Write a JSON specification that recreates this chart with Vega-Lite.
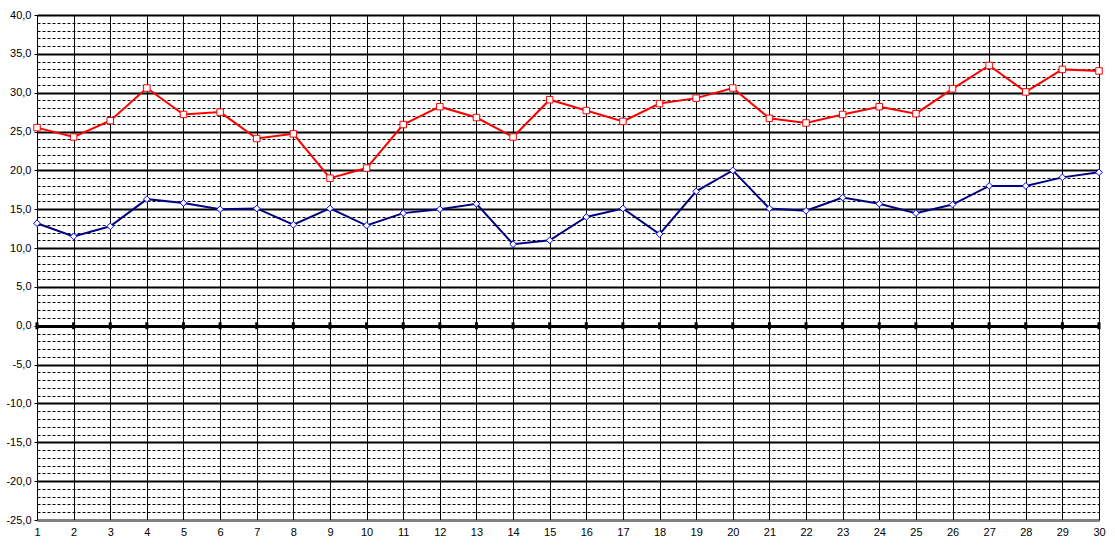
{
  "$schema": "https://vega.github.io/schema/vega-lite/v6.json",
  "width": 1062,
  "height": 505,
  "autosize": {"type": "none"},
  "padding": {"left": 37, "top": 15, "right": 16, "bottom": 32},
  "background": "white",
  "config": {
    "view": {"stroke": "#808080", "strokeWidth": 1},
    "font": "Liberation Sans",
    "axis": {"labelFont": "Liberation Sans", "labelFontSize": 11, "labelColor": "black", "title": null}
  },
  "data": {
    "values": [
      {"day": 1, "max": 25.5, "min": 13.2},
      {"day": 2, "max": 24.3, "min": 11.5},
      {"day": 3, "max": 26.4, "min": 12.8},
      {"day": 4, "max": 30.6, "min": 16.3},
      {"day": 5, "max": 27.2, "min": 15.8},
      {"day": 6, "max": 27.5, "min": 15.0},
      {"day": 7, "max": 24.1, "min": 15.1},
      {"day": 8, "max": 24.7, "min": 13.0},
      {"day": 9, "max": 19.0, "min": 15.1},
      {"day": 10, "max": 20.3, "min": 12.9},
      {"day": 11, "max": 25.9, "min": 14.5},
      {"day": 12, "max": 28.2, "min": 15.0},
      {"day": 13, "max": 26.8, "min": 15.7},
      {"day": 14, "max": 24.3, "min": 10.5},
      {"day": 15, "max": 29.1, "min": 11.0},
      {"day": 16, "max": 27.7, "min": 14.0},
      {"day": 17, "max": 26.3, "min": 15.1},
      {"day": 18, "max": 28.6, "min": 11.8},
      {"day": 19, "max": 29.3, "min": 17.3},
      {"day": 20, "max": 30.6, "min": 20.0},
      {"day": 21, "max": 26.7, "min": 15.1},
      {"day": 22, "max": 26.1, "min": 14.8},
      {"day": 23, "max": 27.2, "min": 16.5},
      {"day": 24, "max": 28.2, "min": 15.7},
      {"day": 25, "max": 27.3, "min": 14.5},
      {"day": 26, "max": 30.5, "min": 15.6},
      {"day": 27, "max": 33.5, "min": 18.0},
      {"day": 28, "max": 30.1, "min": 18.0},
      {"day": 29, "max": 33.0, "min": 19.1},
      {"day": 30, "max": 32.8, "min": 19.75}
    ]
  },
  "transform": [{"fold": ["min", "max"], "as": ["series", "temp"]}],
  "encoding": {
    "x": {
      "field": "day",
      "type": "quantitative",
      "scale": {"domain": [1, 30], "nice": false, "zero": false},
      "axis": {
        "values": [1,2,3,4,5,6,7,8,9,10,11,12,13,14,15,16,17,18,19,20,21,22,23,24,25,26,27,28,29,30],
        "grid": true,
        "gridColor": "black",
        "gridWidth": 1,
        "gridOpacity": 1,
        "tickSize": 0,
        "labelPadding": 6,
        "domainColor": "#808080",
        "domainWidth": 1,
        "labelFlush": false,
        "labelOverlap": false,
        "title": null
      }
    },
    "y": {
      "field": "temp",
      "type": "quantitative",
      "scale": {"domain": [-25, 40], "nice": false, "zero": false},
      "axis": {
        "values": [-25,-24,-23,-22,-21,-20,-19,-18,-17,-16,-15,-14,-13,-12,-11,-10,-9,-8,-7,-6,-5,-4,-3,-2,-1,0,1,2,3,4,5,6,7,8,9,10,11,12,13,14,15,16,17,18,19,20,21,22,23,24,25,26,27,28,29,30,31,32,33,34,35,36,37,38,39,40],
        "grid": true,
        "gridColor": "black",
        "gridOpacity": 1,
        "gridDash": {"condition": {"test": "datum.value % 5 === 0", "value": []}, "value": [3, 2]},
        "gridWidth": {"condition": [{"test": "datum.value === 0", "value": 3}, {"test": "datum.value % 5 === 0", "value": 2}], "value": 1},
        "tickColor": "black",
        "tickSize": 3,
        "tickOpacity": {"condition": {"test": "datum.value % 5 === 0", "value": 1}, "value": 0},
        "labelPadding": 3,
        "labelOverlap": false,
        "labelFlush": false,
        "labelExpr": "datum.value % 5 === 0 ? (datum.value < 0 ? '-' : '') + replace(format(abs(datum.value), '.1f'), '.', ',') : ''",
        "domainColor": "black",
        "domainWidth": 1,
        "title": null
      }
    }
  },
  "layer": [
    {
      "transform": [{"filter": "datum.series === 'min'"}],
      "mark": {"type": "tick", "orient": "vertical", "color": "black", "thickness": 3, "size": 7, "opacity": 1},
      "encoding": {
        "y": {
          "datum": 0,
          "type": "quantitative",
          "scale": {"domain": [-25, 40], "nice": false, "zero": false},
          "axis": {
            "values": [-25,-24,-23,-22,-21,-20,-19,-18,-17,-16,-15,-14,-13,-12,-11,-10,-9,-8,-7,-6,-5,-4,-3,-2,-1,0,1,2,3,4,5,6,7,8,9,10,11,12,13,14,15,16,17,18,19,20,21,22,23,24,25,26,27,28,29,30,31,32,33,34,35,36,37,38,39,40],
            "grid": true,
            "gridColor": "black",
            "gridOpacity": 1,
            "gridDash": {"condition": {"test": "datum.value % 5 === 0", "value": []}, "value": [3, 2]},
            "gridWidth": {"condition": [{"test": "datum.value === 0", "value": 3}, {"test": "datum.value % 5 === 0", "value": 2}], "value": 1},
            "tickColor": "black",
            "tickSize": 3,
            "tickOpacity": {"condition": {"test": "datum.value % 5 === 0", "value": 1}, "value": 0},
            "labelPadding": 3,
            "labelOverlap": false,
            "labelFlush": false,
            "labelExpr": "datum.value % 5 === 0 ? (datum.value < 0 ? '-' : '') + replace(format(abs(datum.value), '.1f'), '.', ',') : ''",
            "domainColor": "black",
            "domainWidth": 1,
            "title": null
          }
        }
      }
    },
    {
      "mark": {"type": "line", "strokeWidth": 2},
      "encoding": {
        "color": {"field": "series", "type": "nominal", "scale": {"domain": ["max", "min"], "range": ["#FF0000", "#000080"]}, "legend": null},
        "detail": {"field": "series"}
      }
    },
    {
      "mark": {"type": "point", "filled": true, "fill": "white", "strokeWidth": 1, "opacity": 1},
      "encoding": {
        "shape": {"field": "series", "type": "nominal", "scale": {"domain": ["max", "min"], "range": ["square", "diamond"]}, "legend": null},
        "stroke": {"field": "series", "type": "nominal", "scale": {"domain": ["max", "min"], "range": ["#FF0000", "#0000FF"]}, "legend": null},
        "size": {"field": "series", "type": "nominal", "scale": {"domain": ["max", "min"], "range": [42, 45]}, "legend": null}
      }
    }
  ]
}
